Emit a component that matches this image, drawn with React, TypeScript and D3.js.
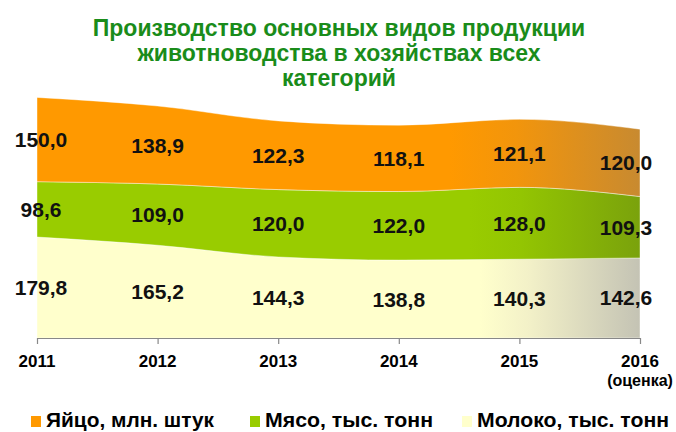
import React from "react";
import * as d3 from "d3";

const years = ["2011", "2012", "2013", "2014", "2015", "2016"];
const eggs = [150.0, 138.9, 122.3, 118.1, 121.1, 120.0];
const meat = [98.6, 109.0, 120.0, 122.0, 128.0, 109.3];
const milk = [179.8, 165.2, 144.3, 138.8, 140.3, 142.6];
const seriesNames = ["Яйцо, млн. штук", "Мясо, тыс. тонн", "Молоко, тыс. тонн"];
const titleLines = [
  "Производство основных видов продукции",
  "животноводства в хозяйствах всех",
  "категорий",
];

const W = 676;
const H = 432;
const FONT = "'Liberation Sans', Arial, sans-serif";

export default function App() {
  const rows = years.map((y, i) => ({ year: y, milk: milk[i], meat: meat[i], eggs: eggs[i] }));
  const keys = ["milk", "meat", "eggs"];
  const stack = d3.stack<any>().keys(keys);
  const series = stack(rows);

  const x = d3.scalePoint<string>().domain(years).range([37, 640]);
  const y = d3.scaleLinear().domain([0, 450]).range([338, 85.3]);

  const area = d3
    .area<any>()
    .x((d: any) => x(d.data.year) as number)
    .y0((d: any) => y(d[0]))
    .y1((d: any) => y(d[1]))
    .curve(d3.curveMonotoneX);

  const fills = ["url(#gMilk)", "url(#gMeat)", "url(#gEgg)"];
  const legendColors = ["#FF9900", "#99CC00", "#FFFFCC"];
  const fmt = (v: number) => v.toFixed(1).replace(".", ",");

  return (
    <svg
      width={W}
      height={H}
      style={{ position: "absolute", left: 0, top: 0, background: "#fff" }}
      fontFamily={FONT}
    >
      <defs>
        <linearGradient id="gEgg" gradientUnits="userSpaceOnUse" x1={450} x2={640} y1={0} y2={0}>
          <stop offset="0" stopColor="#FF9900" />
          <stop offset="0.35" stopColor="#F2950C" />
          <stop offset="1" stopColor="#C88A30" />
        </linearGradient>
        <linearGradient id="gMeat" gradientUnits="userSpaceOnUse" x1={470} x2={640} y1={0} y2={0}>
          <stop offset="0" stopColor="#99CC00" />
          <stop offset="0.3" stopColor="#93C502" />
          <stop offset="1" stopColor="#7AA20C" />
        </linearGradient>
        <linearGradient id="gMilk" gradientUnits="userSpaceOnUse" x1={480} x2={640} y1={0} y2={0}>
          <stop offset="0" stopColor="#FFFFCC" />
          <stop offset="0.3" stopColor="#F3F1C8" />
          <stop offset="1" stopColor="#C4C3B4" />
        </linearGradient>
      </defs>

      {titleLines.map((t, i) => (
        <text
          key={i}
          x={339}
          y={36 + i * 25}
          textAnchor="middle"
          fontSize={23}
          fontWeight="bold"
          fill="#1A8C1A"
        >
          {t}
        </text>
      ))}

      {series.map((s: any, i: number) => (
        <path key={s.key} d={area(s) as string} fill={fills[i]} stroke="#ffffff" strokeWidth={0.6} strokeOpacity={0.7} />
      ))}

      <line x1={37} x2={640} y1={338.5} y2={338.5} stroke="#888" strokeWidth={1.2} />
      {years.map((yr) => (
        <line key={yr} x1={(x(yr) as number) + 0.5} x2={(x(yr) as number) + 0.5} y1={338} y2={344} stroke="#888" strokeWidth={1.2} />
      ))}
      {years.map((yr) => (
        <text key={yr} x={x(yr) as number} y={367} textAnchor="middle" fontSize={17} fontWeight="bold" fill="#000">
          {yr}
        </text>
      ))}
      <text x={640} y={386} textAnchor="middle" fontSize={16} fontWeight="bold" fill="#000">
        (оценка)
      </text>

      {series.map((s: any) =>
        s.map((d: any, j: number) => {
          const cx = (x(d.data.year) as number) + (j === years.length - 1 ? -14 : j === 0 ? 4 : 0);
          const cy = (y(d[0]) + y(d[1])) / 2;
          return (
            <text
              key={s.key + j}
              x={cx}
              y={cy + 7.5}
              textAnchor="middle"
              fontSize={21}
              fontWeight="bold"
              fill="#111"
            >
              {fmt(d.data[s.key])}
            </text>
          );
        })
      )}

      {[
        { x: 31, c: legendColors[0], t: seriesNames[0] },
        { x: 250, c: legendColors[1], t: seriesNames[1] },
        { x: 462, c: legendColors[2], t: seriesNames[2] },
      ].map((l, i) => (
        <g key={i}>
          <rect x={l.x} y={416} width={10} height={11} fill={l.c} />
          <text x={l.x + 15} y={427} fontSize={20} fontWeight="bold" fill="#000" textLength={i === 0 ? 168 : i === 1 ? 168 : 192} lengthAdjust="spacingAndGlyphs">
            {l.t}
          </text>
        </g>
      ))}
    </svg>
  );
}
